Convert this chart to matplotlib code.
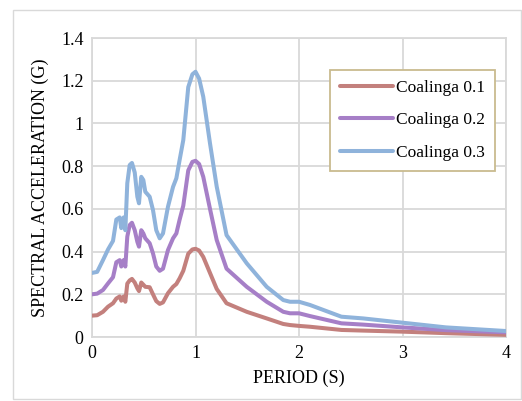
import matplotlib
matplotlib.use("Agg")
import matplotlib.pyplot as plt
from matplotlib.patches import Rectangle

plt.rcParams['font.family'] = ['Liberation Serif', 'DejaVu Serif']

period = [0, 0.05, 0.106, 0.155, 0.203, 0.235, 0.268, 0.283, 0.306, 0.322,
          0.341, 0.364, 0.386, 0.413, 0.438, 0.454, 0.476, 0.496, 0.515, 0.557,
          0.589, 0.621, 0.654, 0.686, 0.734, 0.783, 0.815, 0.847, 0.882, 0.93,
          0.97, 1.0, 1.035, 1.075, 1.14, 1.205, 1.30, 1.495, 1.688, 1.848,
          1.913, 2.0, 2.106, 2.41, 2.62, 3.0, 3.42, 4.0]

coalinga_01 = [0.10, 0.102, 0.118, 0.142, 0.158, 0.18, 0.19, 0.17, 0.19, 0.165,
               0.25, 0.265, 0.272, 0.255, 0.228, 0.215, 0.255, 0.245, 0.235, 0.233,
               0.20, 0.168, 0.155, 0.162, 0.205, 0.235, 0.248, 0.275, 0.31, 0.39,
               0.41, 0.413, 0.405, 0.375, 0.30, 0.225, 0.158, 0.118, 0.087, 0.061,
               0.056, 0.052, 0.048, 0.033, 0.030, 0.025, 0.018, 0.010]

coalinga_02 = [0.20, 0.203, 0.22, 0.251, 0.28, 0.35, 0.36, 0.33, 0.36, 0.33,
               0.47, 0.524, 0.535, 0.50, 0.446, 0.423, 0.50, 0.485, 0.462, 0.439,
               0.392, 0.33, 0.31, 0.32, 0.407, 0.462, 0.485, 0.55, 0.615, 0.78,
               0.82, 0.825, 0.81, 0.75, 0.60, 0.454, 0.32, 0.235, 0.165, 0.118,
               0.111, 0.111, 0.098, 0.064, 0.058, 0.045, 0.032, 0.022]

coalinga_03 = [0.30, 0.305, 0.36, 0.41, 0.45, 0.55, 0.56, 0.51, 0.56, 0.50,
               0.72, 0.805, 0.815, 0.77, 0.657, 0.626, 0.75, 0.735, 0.68, 0.657,
               0.595, 0.50, 0.462, 0.485, 0.61, 0.703, 0.743, 0.83, 0.922, 1.17,
               1.23, 1.242, 1.21, 1.125, 0.907, 0.704, 0.477, 0.345, 0.235, 0.173,
               0.165, 0.165, 0.15, 0.095, 0.087, 0.067, 0.045, 0.028]

labels = ['Coalinga 0.1', 'Coalinga 0.2', 'Coalinga 0.3']
colors = ['#C3807D', '#A67FC7', '#8FB3DB']
xticks = [0, 1, 2, 3, 4]
yticks = [0, 0.2, 0.4, 0.6, 0.8, 1.0, 1.2, 1.4]
yticklabels = ['0', '0.2', '0.4', '0.6', '0.8', '1', '1.2', '1.4']

fig = plt.figure(figsize=(5.22, 4.01), dpi=100)
ax = fig.add_axes([92/522, 64/401, 414/522, 299/401])

for ys, lab, c in zip([coalinga_01, coalinga_02, coalinga_03], labels, colors):
    ax.plot(period, ys, color=c, lw=2.9, label=lab, solid_capstyle='round',
            solid_joinstyle='round', zorder=3)

ax.set_xlim(0, 4)
ax.set_ylim(0, 1.4)
ax.set_xticks(xticks)
ax.set_yticks(yticks)
ax.set_yticklabels(yticklabels)
ax.tick_params(length=0, labelsize=13, pad=6, colors='#000000')
ax.grid(True, color='#D9D9D9', lw=1.3, zorder=0)
for s in ax.spines.values():
    s.set_color('#D9D9D9')
    s.set_linewidth(1.3)

ax.set_xlabel('PERIOD (S)', fontsize=13, labelpad=5)
ax.set_ylabel('SPECTRAL ACCELERATION (G)', fontsize=13, labelpad=9)

leg = ax.legend(loc='upper left', bbox_to_anchor=((330-92)/414, (337-70)/299),
                fontsize=12.5, frameon=True, fancybox=False, handlelength=3.1,
                labelspacing=0.95, handletextpad=0.15, borderpad=0.55,
                borderaxespad=0)
leg.get_frame().set_edgecolor('#C9BB8F')
leg.get_frame().set_linewidth(1.3)
leg.get_frame().set_alpha(1)

fig.patches.append(Rectangle((13/522, 2/401), 508/522, 389/401,
                             transform=fig.transFigure, fill=False,
                             edgecolor='#D9D9D9', lw=1.0))

fig.savefig('out.png', dpi=100)
